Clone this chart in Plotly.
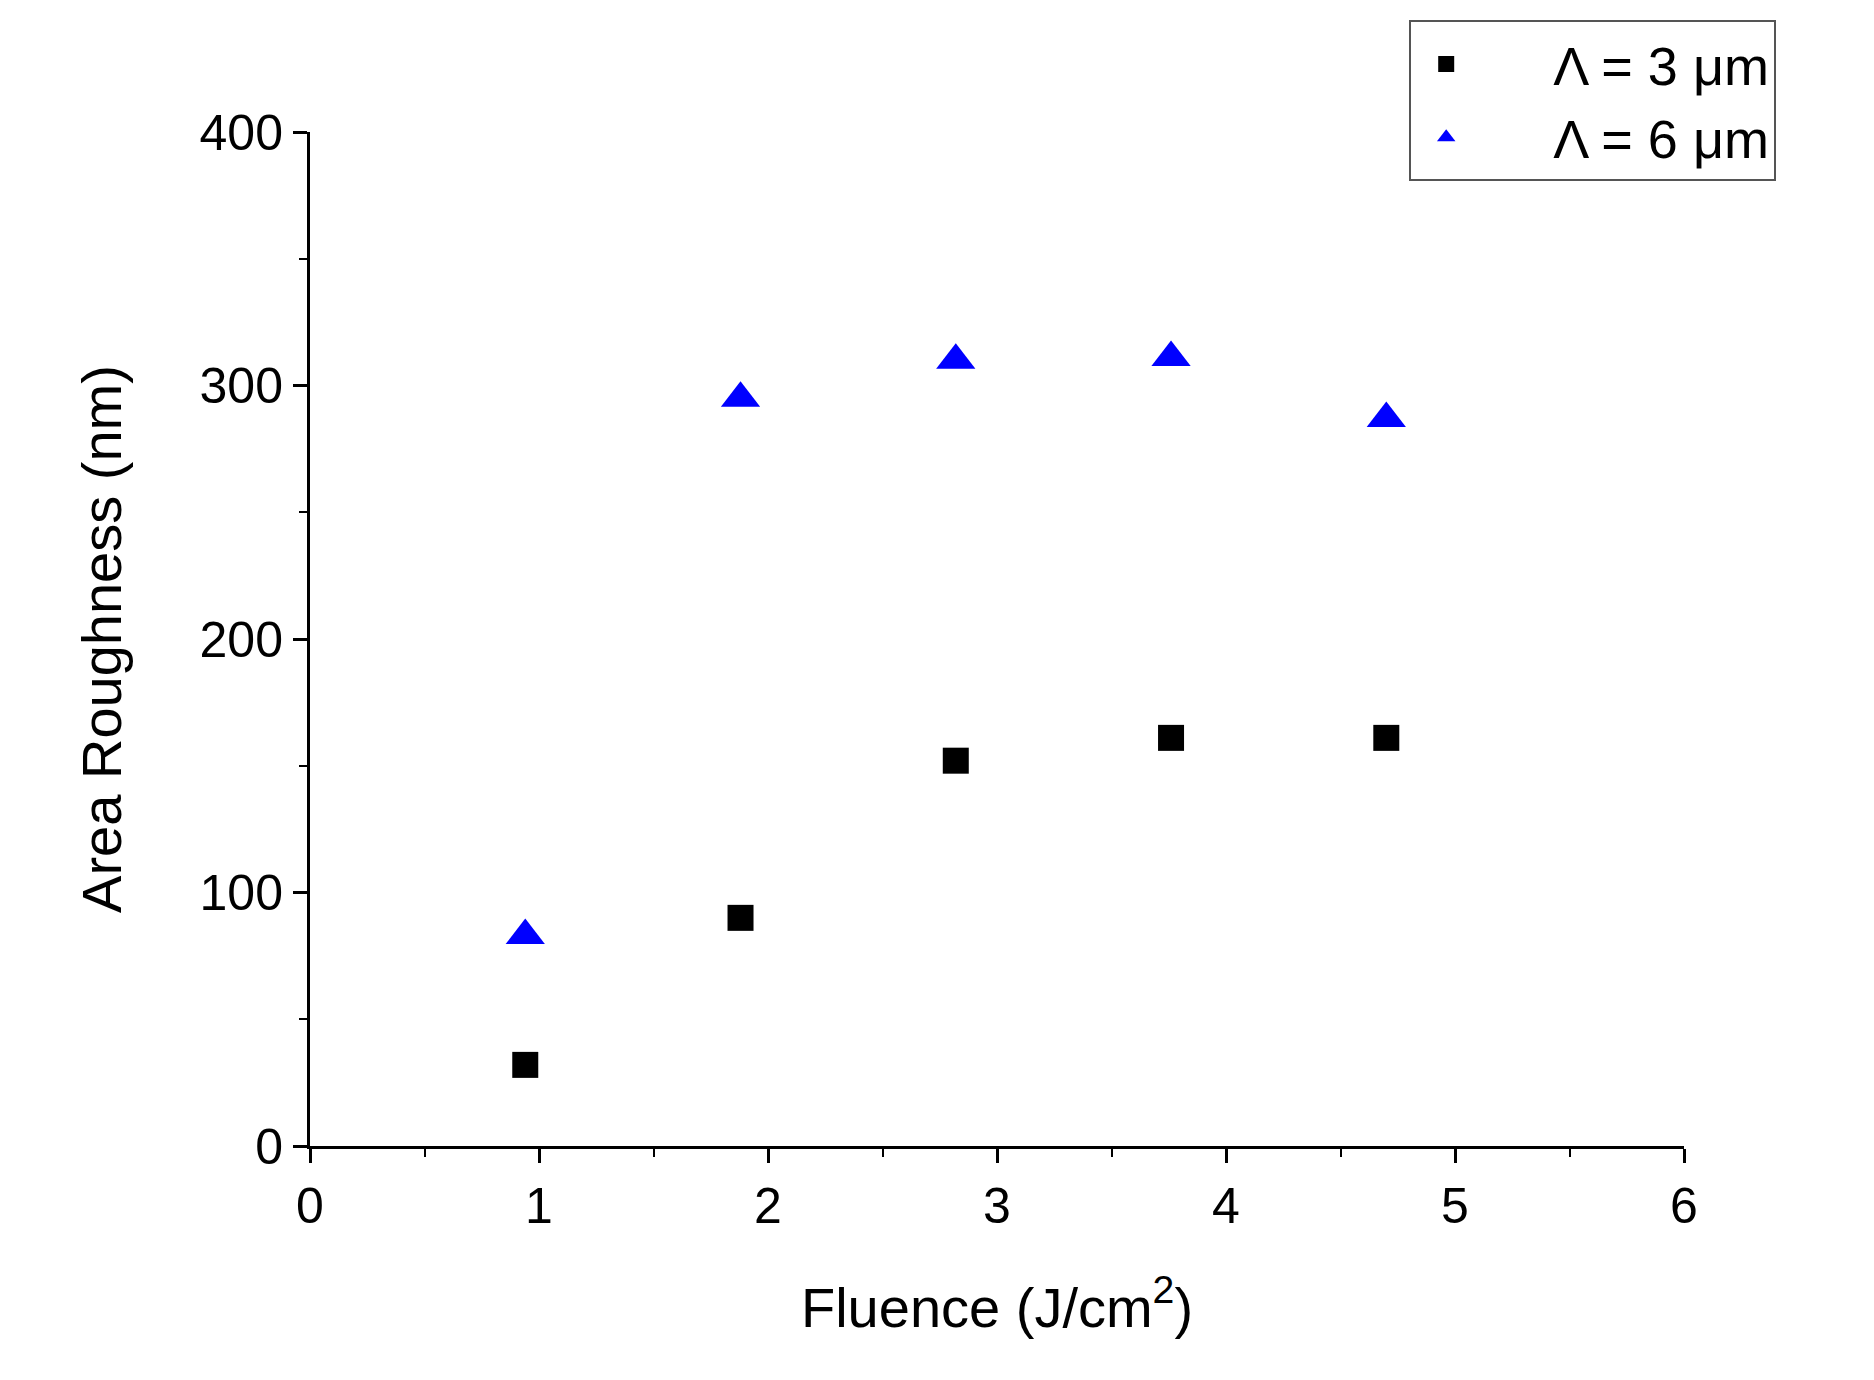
import plotly.graph_objects as go

fluence = [0.94, 1.88, 2.82, 3.76, 4.70]
rough_3um = [32, 90, 152, 161, 161]
rough_6um = [83, 295, 310, 311, 287]

fnt = 'Liberation Sans, Arial, sans-serif'

fig = go.Figure()
fig.add_trace(go.Scatter(x=fluence, y=rough_3um, mode='markers', name='     \u039b = 3 \u03bcm',
                         marker=dict(symbol='square', size=26, color='black')))
fig.add_trace(go.Scatter(x=fluence, y=rough_6um, mode='markers', name='     \u039b = 6 \u03bcm',
                         marker=dict(symbol='triangle-up', size=34, color='#0000ff')))

axis = dict(showline=True, linecolor='black', linewidth=3, ticks='outside', ticklen=14,
            tickwidth=3, tickcolor='black', showgrid=False, zeroline=False,
            tickfont=dict(size=50, color='black', family=fnt),
            minor=dict(ticks='outside', ticklen=8, tickwidth=2, tickcolor='black'))

fig.update_layout(
    width=1874, height=1380, paper_bgcolor='white', plot_bgcolor='white',
    margin=dict(l=302, r=198, t=120, b=242),
    font=dict(family=fnt, color='black'),
    showlegend=True,
    legend=dict(x=0.8, y=1.11, xref='paper', yref='paper', xanchor='left', yanchor='top',
                bordercolor='#555', borderwidth=2, font=dict(size=54),
                itemsizing='trace', itemwidth=60),
    xaxis=dict(axis, range=[0, 6], dtick=1, minor=dict(axis['minor'], dtick=0.5),
               title=dict(text='Fluence (J/cm<sup>2</sup>)', font=dict(size=56), standoff=55)),
    yaxis=dict(axis, range=[0, 400], dtick=100, minor=dict(axis['minor'], dtick=50),
               title=dict(text='Area Roughness (nm)', font=dict(size=56), standoff=60)),
)

fig.write_html("out.html")
